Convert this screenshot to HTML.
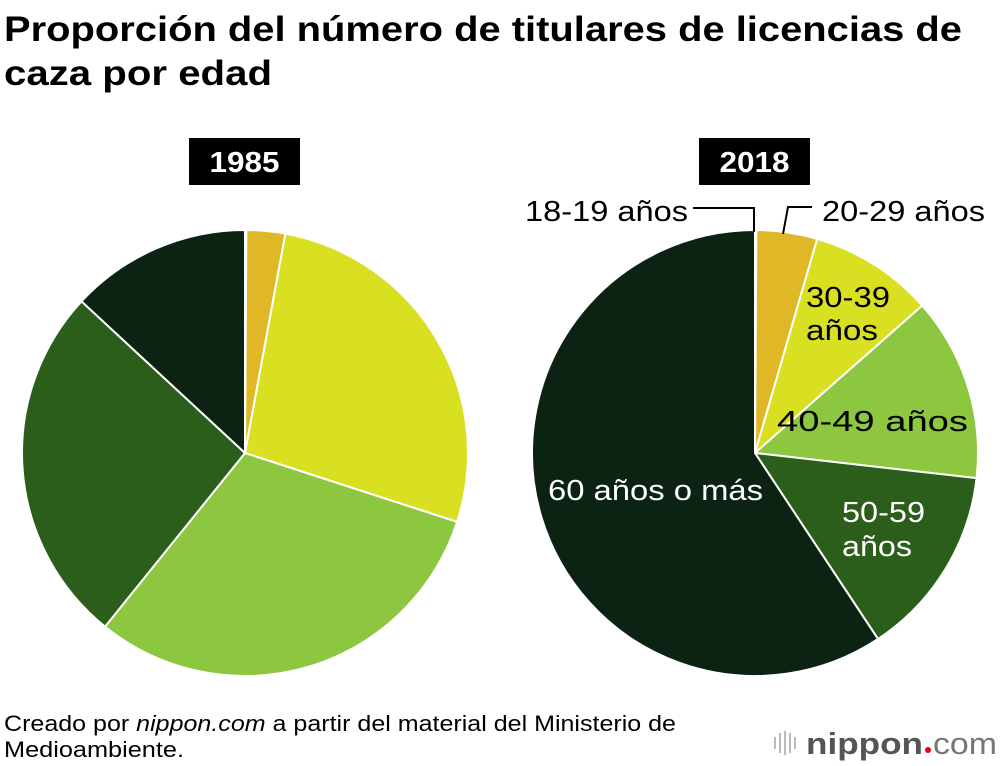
<!DOCTYPE html>
<html><head><meta charset="utf-8"><style>
body{margin:0;background:#fff;}
svg{display:block;font-family:"Liberation Sans",Arial,sans-serif;}
</style></head><body>
<svg id="chart" width="1000" height="766" viewBox="0 0 1000 766">
<text x="4" y="41" font-size="35" font-weight="bold" fill="#000" textLength="958" lengthAdjust="spacingAndGlyphs">Proporción del número de titulares de licencias de</text>
<text x="4" y="85" font-size="35" font-weight="bold" fill="#000" textLength="268" lengthAdjust="spacingAndGlyphs">caza por edad</text>
<rect x="189" y="138" width="111" height="47" fill="#000"/>
<text x="244.5" y="172" font-size="29" font-weight="bold" fill="#fff" text-anchor="middle" textLength="70" lengthAdjust="spacingAndGlyphs">1985</text>
<rect x="699" y="138" width="111" height="47" fill="#000"/>
<text x="754.5" y="172" font-size="29" font-weight="bold" fill="#fff" text-anchor="middle" textLength="70" lengthAdjust="spacingAndGlyphs">2018</text>
<g id="pie1"></g>
<g id="pie2"></g>
<g fill="none" stroke="#000" stroke-width="2">
<polyline points="693,208 754,208 754,232"/>
<polyline points="812,207 788,207 783,234"/>
</g>
<g font-size="29" fill="#000">
<text x="525" y="221" textLength="163" lengthAdjust="spacingAndGlyphs">18-19 años</text>
<text x="822" y="221" textLength="163" lengthAdjust="spacingAndGlyphs">20-29 años</text>
<text x="806" y="307" textLength="84" lengthAdjust="spacingAndGlyphs">30-39</text>
<text x="806" y="340" textLength="72" lengthAdjust="spacingAndGlyphs">años</text>
<text x="777" y="431" textLength="191" lengthAdjust="spacingAndGlyphs">40-49 años</text>
<text x="842" y="522" fill="#fff" textLength="83" lengthAdjust="spacingAndGlyphs">50-59</text>
<text x="842" y="556" fill="#fff" textLength="70" lengthAdjust="spacingAndGlyphs">años</text>
<text x="548" y="500" fill="#fff" textLength="215" lengthAdjust="spacingAndGlyphs">60 años o más</text>
</g>
<text x="4" y="731" font-size="22" fill="#000" textLength="672" lengthAdjust="spacingAndGlyphs">Creado por <tspan font-style="italic">nippon.com</tspan> a partir del material del Ministerio de</text>
<text x="4" y="757" font-size="22" fill="#000" textLength="180" lengthAdjust="spacingAndGlyphs">Medioambiente.</text>
<g>
<g stroke="#bbb" stroke-width="2">
<line x1="775" y1="737" x2="775" y2="749"/><line x1="780" y1="733" x2="780" y2="753"/><line x1="785" y1="731" x2="785" y2="755"/><line x1="790" y1="733" x2="790" y2="753"/><line x1="795" y1="737" x2="795" y2="749"/>
</g>
<text x="806" y="754" font-size="31" fill="#555" font-weight="bold" textLength="117" lengthAdjust="spacingAndGlyphs">nippon</text>
<circle cx="928" cy="750" r="3" fill="#e60012"/>
<text x="933" y="754" font-size="31" fill="#777" textLength="64" lengthAdjust="spacingAndGlyphs">com</text>
</g>
</svg>
<script>
const categories = ["18-19 años","20-29 años","30-39 años","40-49 años","50-59 años","60 años o más"];
const values1985 = [0.1, 2.8, 27.1, 30.8, 26.1, 13.1];
const values2018 = [0.1, 4.4, 9.0, 13.3, 13.9, 59.3];
const sliceColors = ["#e0b827","#e0b827","#d9e022","#8dc63f","#2a5e1a","#0c2314"];
const NS = "http://www.w3.org/2000/svg";
function drawPie(gid, vals, cx, cy, r){
  const g = document.getElementById(gid);
  const total = vals.reduce((a,b)=>a+b,0);
  let acc = 0;
  vals.forEach((v,i)=>{
    const a0 = acc/total*2*Math.PI; acc += v;
    const a1 = acc/total*2*Math.PI;
    const x0 = cx + r*Math.sin(a0), y0 = cy - r*Math.cos(a0);
    const x1 = cx + r*Math.sin(a1), y1 = cy - r*Math.cos(a1);
    const large = (a1-a0) > Math.PI ? 1 : 0;
    const p = document.createElementNS(NS,"path");
    p.setAttribute("d", `M${cx},${cy} L${x0},${y0} A${r},${r} 0 ${large} 1 ${x1},${y1} Z`);
    p.setAttribute("fill", sliceColors[i]);
    p.setAttribute("stroke", "#fff");
    p.setAttribute("stroke-width", "2");
    
    
    g.appendChild(p);
  });
}
drawPie("pie1", values1985, 245, 453, 223);
drawPie("pie2", values2018, 755, 453, 223);
</script>
</body></html>
